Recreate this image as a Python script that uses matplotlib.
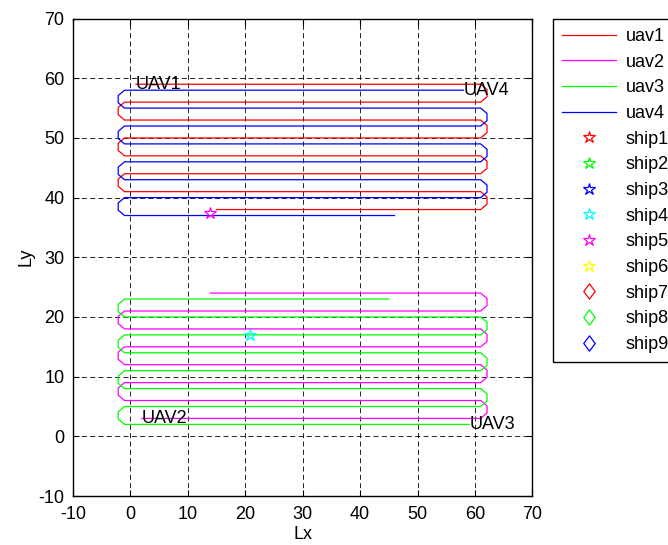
import numpy as np
import matplotlib.pyplot as plt
from matplotlib.path import Path

plt.rcParams['font.family'] = ['Liberation Sans', 'DejaVu Sans']
plt.rcParams['axes.unicode_minus'] = False

# sweep lines (y of each pass, in flight order) and start / end x of each UAV
uav1_y = [59, 56, 53, 50, 47, 44, 41, 38]
uav2_y = [3, 6, 9, 12, 15, 18, 21, 24]
uav3_y = [2, 5, 8, 11, 14, 17, 20, 23]
uav4_y = [58, 55, 52, 49, 46, 43, 40, 37]
uav_start_x = [1, 2, 59, 58]
uav_end_x = [15, 14, 45, 46]
uav_names = ['uav1', 'uav2', 'uav3', 'uav4']
uav_labels = ['UAV1', 'UAV2', 'UAV3', 'UAV4']
uav_colors = [(1, 0, 0), (1, 0, 1), (0, 1, 0), (0, 0, 1)]

# lane limits and turn bulge
lane_x = [-1, 61]
turn_x = [-2.1, 62.1]

# ships (only ship4 and ship5 lie in view)
ship_names = ['ship%d' % i for i in range(1, 10)]
ship_x = [np.nan, np.nan, np.nan, 20.9, 13.8, np.nan, np.nan, np.nan, np.nan]
ship_y = [np.nan, np.nan, np.nan, 16.9, 37.4, np.nan, np.nan, np.nan, np.nan]
ship_colors = [(1, 0, 0), (0, 1, 0), (0, 0, 1), (0, 1, 1), (1, 0, 1), (1, 1, 0),
               (1, 0, 0), (0, 1, 0), (0, 0, 1)]
diamond = Path([(0, 1), (0.75, 0), (0, -1), (-0.75, 0), (0, 1)],
               [Path.MOVETO, Path.LINETO, Path.LINETO, Path.LINETO, Path.CLOSEPOLY])
ship_markers = ['*'] * 6 + [diamond] * 3


def build_path(ys, x0, x1):
    xs, yy = [x0], [ys[0]]
    side = 1 if x0 < 30 else 0   # lane end we fly towards
    for i, y in enumerate(ys):
        if i == len(ys) - 1:
            xs.append(x1)
            yy.append(y)
            break
        dy = ys[i + 1] - y
        xs += [lane_x[side], turn_x[side], turn_x[side], lane_x[side]]
        yy += [y, y + 0.3 * dy, y + 0.7 * dy, y + dy]
        side = 1 - side
    return xs, yy


fig = plt.figure(figsize=(6.68, 5.45), dpi=100)
ax = fig.add_axes([0.109, 0.0899, 0.688, 0.876])

handles = []
for ys, x0, x1, c, n, lab in zip([uav1_y, uav2_y, uav3_y, uav4_y], uav_start_x, uav_end_x,
                                 uav_colors, uav_names, uav_labels):
    px, py = build_path(ys, x0, x1)
    h, = ax.plot(px, py, color=c, lw=0.9, label=n)
    handles.append(h)
    ax.text(x0, ys[0], lab, fontsize=13, ha='left', va='center')

for sx, sy, c, m, n in zip(ship_x, ship_y, ship_colors, ship_markers, ship_names):
    h, = ax.plot([sx], [sy], linestyle='none', marker=m, markersize=9 if m == '*' else 11,
                 markerfacecolor='none', markeredgecolor=c, markeredgewidth=0.9, label=n)
    handles.append(h)

ax.set_xlim(-10, 70)
ax.set_ylim(-10, 70)
ax.set_xticks(range(-10, 71, 10))
ax.set_yticks(range(-10, 71, 10))
ax.tick_params(direction='in', labelsize=13, top=True, right=True, length=4, width=0.8)
ax.tick_params(axis='x', pad=7)
ax.tick_params(axis='y', pad=6)
ax.grid(True, color='k', linestyle=(0, (6, 4)), linewidth=0.6)
for s in ax.spines.values():
    s.set_linewidth(1.0)
ax.set_xlabel('Lx', fontsize=13, labelpad=2)
ax.set_ylabel('Ly', fontsize=13, labelpad=3)

leg = fig.legend(handles=handles, loc='upper left', bbox_to_anchor=(552.7 / 668, 1 - 19 / 545),
                 fontsize=13, frameon=True, fancybox=False, edgecolor='k', framealpha=1,
                 handlelength=3.0, handletextpad=0.55, labelspacing=0.48, borderpad=0.5,
                 borderaxespad=0)
leg.get_frame().set_linewidth(1.0)

fig.savefig('out.png', dpi=100)
